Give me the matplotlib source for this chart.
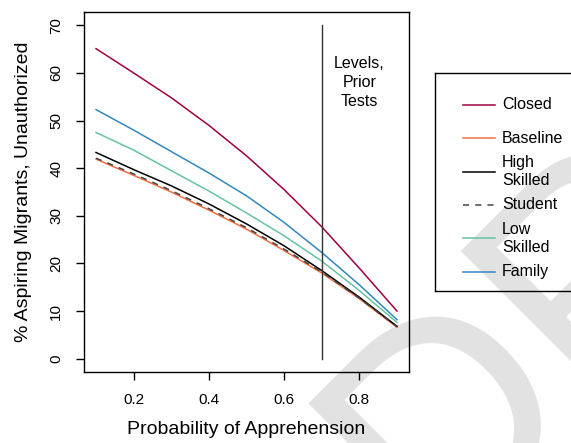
import numpy as np
import matplotlib.pyplot as plt
from matplotlib.lines import Line2D

plt.rcParams['font.family'] = ['Liberation Sans', 'DejaVu Sans']

# data
prob = [0.1, 0.2, 0.3, 0.4, 0.5, 0.6, 0.7, 0.8, 0.9]
closed = [65.1, 60.0, 54.8, 49.0, 42.6, 35.5, 27.7, 19.0, 10.0]
baseline = [41.9, 38.5, 35.0, 31.2, 27.2, 22.7, 18.0, 12.6, 6.6]
high_skilled = [43.3, 39.7, 36.3, 32.5, 28.3, 23.7, 18.5, 12.9, 6.8]
student = [42.1, 38.8, 35.3, 31.5, 27.5, 23.0, 18.2, 12.7, 6.7]
low_skilled = [47.5, 43.8, 39.5, 35.2, 30.6, 25.8, 20.5, 14.3, 7.6]
family = [52.3, 48.0, 43.5, 39.0, 34.2, 28.6, 22.3, 15.5, 8.2]

series = [
    ('Closed', closed, '#9E0142', '-'),
    ('Baseline', baseline, '#F46D43', '-'),
    ('High\nSkilled', high_skilled, '#000000', '-'),
    ('Student', student, '#444444', (0, (4, 4))),
    ('Low\nSkilled', low_skilled, '#66C2A5', '-'),
    ('Family', family, '#3288BD', '-'),
]

cutoff = 0.7
yticks = [0, 10, 20, 30, 40, 50, 60, 70]
xticks = [0.2, 0.4, 0.6, 0.8]

W, H = 571, 443
fig = plt.figure(figsize=(W / 100, H / 100), dpi=100)

# watermark in the background (mostly off the canvas)
fig.text(430 / W, -107 / H, 'DRAFT', rotation=45, rotation_mode='anchor',
         ha='left', va='baseline', fontsize=216, color='#e2e2e2', zorder=-5)

ax = fig.add_axes([84 / W, (H - 372) / H, (409 - 84) / W, (372 - 12) / H])
ax.set_facecolor('none')

for name, vals, col, ls in series:
    ax.plot(prob, vals, color=col, linestyle=ls, lw=1.1)

ax.plot([cutoff, cutoff], [0, 70], color='#333333', lw=1.0)
ax.text(0.8, 58, 'Levels,\nPrior\nTests', ha='center', va='center',
        fontsize=11.5, linespacing=1.35)

ax.set_xlim(0.068, 0.932)
ax.set_ylim(-2.8, 72.8)
ax.set_xticks(xticks)
ax.set_xticklabels(['0.2', '0.4', '0.6', '0.8'])
ax.set_yticks(yticks)
ax.set_yticklabels([str(v) for v in yticks], rotation=90, va='center')
ax.tick_params(axis='x', length=6, width=1, labelsize=11, pad=9)
ax.tick_params(axis='y', length=6, width=1, labelsize=11, pad=9)
for s in ax.spines.values():
    s.set_linewidth(1.0)

ax.set_xlabel('Probability of Apprehension', fontsize=14)
ax.set_ylabel('% Aspiring Migrants, Unauthorized', fontsize=14)
ax.xaxis.set_label_coords(0.5, (372 - 429) / 360)
ax.xaxis.label.set_va('center')
ax.yaxis.set_label_coords((24 - 84) / 325, 0.5)
ax.yaxis.label.set_va('center')

# legend box, drawn in its own pixel space, runs off the right edge
lx0, ly0, lx1, ly1 = 435, 72.7, 620, 291
lax = fig.add_axes([lx0 / W, (H - ly1) / H, (lx1 - lx0) / W, (ly1 - ly0) / H])
lax.set_facecolor('none')
lax.set_xlim(lx0, lx1)
lax.set_ylim(ly1, ly0)
lax.set_xticks([])
lax.set_yticks([])
for s in lax.spines.values():
    s.set_linewidth(1.0)

row_y = np.linspace(105, 271.6, len(series))
for (name, vals, col, ls), yy in zip(series, row_y):
    lax.add_line(Line2D([462.7, 495], [yy, yy], color=col, linestyle=ls, lw=1.1))
    lax.text(502, yy, name, ha='left', va='center', fontsize=11.5, linespacing=1.25)

fig.savefig('out.png', dpi=100)
